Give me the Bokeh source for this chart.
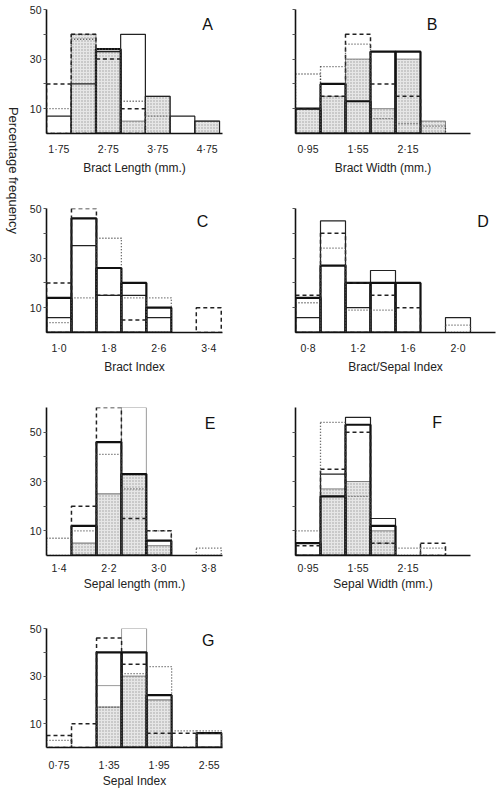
import math
from bokeh.plotting import figure
from bokeh.models import FixedTicker, Label, CustomJSTickFormatter
from bokeh.layouts import row, column
from bokeh.embed import file_html
from bokeh.resources import INLINE

FONT = "Liberation Sans"

# ---------------- data (percentage frequency per bin) ----------------
A_centers = [1.75, 2.25, 2.75, 3.25, 3.75, 4.25, 4.75]
A_stipple = [0, 40, 33, 5, 15, 0, 5]
A_solid = [7, 20, 33, 40, 15, 7, 5]
A_thick = [0, 0, 34, 0, 0, 0, 0]
A_dashed = [20, 40, 30, 10, 0, 0, 0]
A_dotted = [10, 38, 34, 13, 7, 0, 0]
A_xticks = [1.75, 2.75, 3.75, 4.75]
A_xlabels = ["1·75", "2·75", "3·75", "4·75"]

B_centers = [0.95, 1.25, 1.55, 1.85, 2.15, 2.45]
B_stipple = [10, 15, 30, 10, 30, 5]
B_thick = [10, 20, 13, 33, 33, 0]
B_dashed = [10, 15, 40, 20, 15, 0]
B_dotted = [24, 27, 36, 6, 4, 3]
B_xticks = [0.95, 1.55, 2.15]
B_xlabels = ["0·95", "1·55", "2·15"]

C_centers = [1.0, 1.4, 1.8, 2.2, 2.6, 3.0, 3.4]
C_thick = [14, 46, 26, 20, 10, 0, 0]
C_solid = [6, 35, 15, 15, 6, 0, 0]
C_dashed = [20, 50, 15, 5, 0, 0, 10]
C_dotted = [4, 14, 38, 14, 14, 0, 0]
C_xticks = [1.0, 1.8, 2.6, 3.4]
C_xlabels = ["1·0", "1·8", "2·6", "3·4"]

D_centers = [0.8, 1.0, 1.2, 1.4, 1.6, 1.8, 2.0]
D_solid = [6, 45, 10, 25, 0, 0, 6]
D_thick = [14, 27, 20, 20, 20, 0, 0]
D_dashed = [15, 40, 20, 15, 10, 0, 0]
D_dotted = [12, 34, 9, 9, 0, 0, 3]
D_xticks = [0.8, 1.2, 1.6, 2.0]
D_xlabels = ["0·8", "1·2", "1·6", "2·0"]

E_centers = [1.4, 1.8, 2.2, 2.6, 3.0, 3.4, 3.8]
E_stipple = [0, 5, 25, 33, 4, 0, 0]
E_light = [0, 5, 25, 60, 4, 0, 0]
E_thick = [0, 12, 46, 33, 6, 0, 0]
E_dashed = [0, 20, 60, 15, 10, 0, 0]
E_dotted = [7, 10, 41, 27, 10, 0, 3]
E_xticks = [1.4, 2.2, 3.0, 3.8]
E_xlabels = ["1·4", "2·2", "3·0", "3·8"]

F_centers = [0.95, 1.25, 1.55, 1.85, 2.15, 2.45]
F_stipple = [0, 27, 30, 10, 0, 0]
F_solid = [5, 33, 56, 15, 0, 0]
F_thick = [5, 24, 53, 12, 0, 0]
F_dashed = [4, 35, 50, 5, 0, 5]
F_dotted = [10, 54, 24, 5, 3, 3]
F_xticks = [0.95, 1.55, 2.15]
F_xlabels = ["0·95", "1·55", "2·15"]

G_centers = [0.75, 1.05, 1.35, 1.65, 1.95, 2.25, 2.55]
G_stipple = [0, 0, 17, 30, 20, 0, 0]
G_light = [0, 0, 26, 50, 20, 0, 0]
G_thick = [0, 0, 40, 40, 22, 0, 6]
G_dashed = [5, 10, 46, 35, 6, 6, 6]
G_dotted = [3, 0, 17, 31, 34, 7, 7]
G_xticks = [0.75, 1.35, 1.95, 2.55]
G_xlabels = ["0·75", "1·35", "1·95", "2·55"]

Y_TICKS = [10, 20, 30, 40, 50]
Y_LABELS = ["10", "", "30", "", "50"]
Y_NOLABELS = ["", "", "", "", ""]

STYLES = {
    "stipple": dict(fill_color="#e6e6e6", line_color="#666666", line_width=0.8,
                    hatch_pattern="dot", hatch_color="#9c9c9c", hatch_scale=3, hatch_weight=1),
    "light": dict(fill_color=None, line_color="#9a9a9a", line_width=1.0),
    "solid": dict(fill_color=None, line_color="#222222", line_width=1.2),
    "thick": dict(fill_color=None, line_color="#111111", line_width=2.2),
    "dashed": dict(fill_color=None, line_color="#222222", line_width=1.5, line_dash="4 3"),
    "dotted": dict(fill_color=None, line_color="#444444", line_width=1.3, line_dash="1 2"),
}


def hist(p, centers, vals, style):
    w = centers[1] - centers[0]
    keep = [i for i, v in enumerate(vals) if v > 0]
    p.quad(left=[centers[i] - w / 2 for i in keep],
           right=[centers[i] + w / 2 for i in keep],
           bottom=0, top=[vals[i] for i in keep], **STYLES[style])


def tick_formatter(tvals, tlabels):
    return CustomJSTickFormatter(args=dict(tvals=tvals, tlabels=tlabels), code="""
        const i = tvals.findIndex(t => Math.abs(t - tick) < 1e-6);
        return i >= 0 ? tlabels[i] : '';
    """)


def panel(letter, centers, series, xr, ymax, width, height, bl, br, bt, bb,
          xticks, xlabels, ylabels, xlabel, letter_xy, std, astd):
    p = figure(width=width, height=height, x_range=xr, y_range=(0, ymax),
               toolbar_location=None, output_backend="svg",
               min_border_left=bl, min_border_right=br,
               min_border_top=bt, min_border_bottom=bb)
    p.grid.visible = False
    p.outline_line_color = None
    p.background_fill_color = "white"
    for style, vals in series:
        hist(p, centers, vals, style)

    xa = p.xaxis[0]
    xa.ticker = FixedTicker(ticks=xticks)
    xa.formatter = tick_formatter(xticks, xlabels)
    xa.major_tick_out = 0
    xa.major_tick_in = 0
    xa.minor_tick_out = 0
    xa.minor_tick_in = 0
    xa.axis_line_color = "#111111"
    xa.axis_line_width = 1.5
    xa.major_label_standoff = std
    xa.major_label_text_font = FONT
    xa.major_label_text_font_size = "10.5px"
    xa.major_label_text_color = "#222222"
    xa.axis_label = xlabel
    xa.axis_label_standoff = astd
    xa.axis_label_text_font = FONT
    xa.axis_label_text_font_size = "12px"
    xa.axis_label_text_font_style = "normal"
    xa.axis_label_text_color = "#222222"

    ya = p.yaxis[0]
    ya.ticker = FixedTicker(ticks=Y_TICKS)
    ya.formatter = tick_formatter(Y_TICKS, ylabels)
    ya.major_tick_out = 3
    ya.major_tick_in = 0
    ya.minor_tick_out = 0
    ya.minor_tick_in = 0
    ya.major_tick_line_color = "#555555"
    ya.axis_line_color = "#111111"
    ya.axis_line_width = 1.6
    ya.major_label_standoff = 2
    ya.major_label_text_font = FONT
    ya.major_label_text_font_size = "10.5px"
    ya.major_label_text_color = "#222222"

    p.add_layout(Label(x=letter_xy[0], y=letter_xy[1], text=letter,
                       text_font=FONT, text_font_size="16px", text_color="#111111",
                       text_align="center", text_baseline="middle"))
    return p


LW, RW = 224, 251

pA = panel("A", A_centers,
           [("stipple", A_stipple), ("solid", A_solid), ("thick", A_thick),
            ("dashed", A_dashed), ("dotted", A_dotted)],
           (1.5, 5.06), 50, LW, 200, 20, 28, 9, 67,
           A_xticks, A_xlabels, Y_LABELS, "Bract Length (mm.)", (4.76, 44), 9, 3)
pB = panel("B", B_centers,
           [("stipple", B_stipple), ("thick", B_thick),
            ("dashed", B_dashed), ("dotted", B_dotted)],
           (0.8, 2.9), 50, RW, 200, 45, 31, 9, 67,
           B_xticks, B_xlabels, Y_NOLABELS, "Bract Width (mm.)", (2.44, 44), 9, 3)
pC = panel("C", C_centers,
           [("solid", C_solid), ("thick", C_thick),
            ("dashed", C_dashed), ("dotted", C_dotted)],
           (0.8, 3.62), 50, LW, 195, 20, 28, 8, 63,
           C_xticks, C_xlabels, Y_LABELS, "Bract Index", (3.3, 44.7), 9, 3)
pD = panel("D", D_centers,
           [("solid", D_solid), ("thick", D_thick),
            ("dashed", D_dashed), ("dotted", D_dotted)],
           (0.7, 2.3), 50, RW, 195, 45, 6, 8, 63,
           D_xticks, D_xlabels, Y_NOLABELS, "Bract/Sepal Index", (2.2, 44.7), 9, 3)
pE = panel("E", E_centers,
           [("stipple", E_stipple), ("light", E_light), ("thick", E_thick),
            ("dashed", E_dashed), ("dotted", E_dotted)],
           (1.2, 4.02), 60, LW, 223, 20, 28, 12, 63,
           E_xticks, E_xlabels, Y_LABELS, "Sepal length (mm.)", (3.82, 53.7), 6, 0)
pF = panel("F", F_centers,
           [("stipple", F_stipple), ("solid", F_solid), ("thick", F_thick),
            ("dashed", F_dashed), ("dotted", F_dotted)],
           (0.8, 2.9), 60, RW, 223, 45, 31, 12, 63,
           F_xticks, F_xlabels, Y_NOLABELS, "Sepal Width (mm.)", (2.5, 54), 6, 0)
pG = panel("G", G_centers,
           [("stipple", G_stipple), ("light", G_light), ("thick", G_thick),
            ("dashed", G_dashed), ("dotted", G_dotted)],
           (0.6, 2.71), 50, LW, 172, 20, 28, 10, 39,
           G_xticks, G_xlabels, Y_LABELS, "Sepal Index", (2.54, 45), 11, 0)

TOTAL_H = 200 + 195 + 223 + 172

# side label figure
pL = figure(width=26, height=TOTAL_H, x_range=(0, 26), y_range=(0, TOTAL_H),
            toolbar_location=None, output_backend="svg",
            x_axis_location=None, y_axis_location=None,
            min_border_left=0, min_border_right=0, min_border_top=0, min_border_bottom=0)
pL.grid.visible = False
pL.outline_line_color = None
pL.add_layout(Label(x=13, y=TOTAL_H - 170, text="Percentage frequency", angle=-math.pi / 2,
                    text_font=FONT, text_font_size="13px", text_color="#222222",
                    text_align="center", text_baseline="middle"))

layout = row(pL, column(row(pA, pB), row(pC, pD), row(pE, pF), row(pG)))

open("out.html", "w").write(file_html(layout, INLINE))
